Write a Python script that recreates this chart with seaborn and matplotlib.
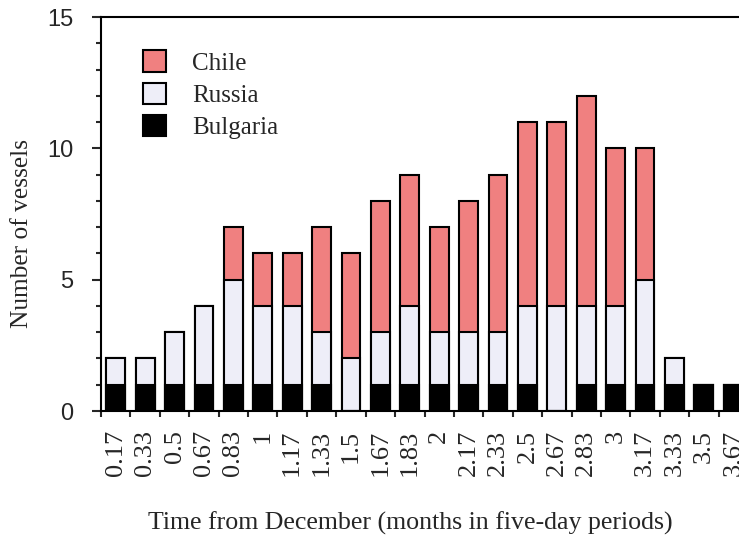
import matplotlib
matplotlib.use("Agg")
import matplotlib.pyplot as plt
import seaborn as sns
import numpy as np
import pandas as pd
from matplotlib.patches import Patch
from matplotlib.ticker import MultipleLocator, FixedLocator

periods = ["0.17", "0.33", "0.5", "0.67", "0.83", "1", "1.17", "1.33", "1.5", "1.67", "1.83",
           "2", "2.17", "2.33", "2.5", "2.67", "2.83", "3", "3.17", "3.33", "3.5", "3.67"]
bulgaria = [1, 1, 1, 1, 1, 1, 1, 1, 0, 1, 1, 1, 1, 1, 1, 0, 1, 1, 1, 1, 1, 1]
russia   = [1, 1, 2, 3, 4, 3, 3, 2, 2, 2, 3, 2, 2, 2, 3, 4, 3, 3, 4, 1, 0, 0]
chile    = [0, 0, 0, 0, 2, 2, 2, 4, 4, 5, 5, 4, 5, 6, 7, 7, 8, 6, 5, 0, 0, 0]

col_chile = "#F08080"
col_russia = "#EEEEF8"
col_bulg = "#000000"

df = pd.DataFrame({"period": periods, "Bulgaria": bulgaria, "Russia": russia, "Chile": chile})
df["lvl1"] = df["Bulgaria"]
df["lvl2"] = df["Bulgaria"] + df["Russia"]
df["lvl3"] = df["lvl2"] + df["Chile"]

sns.set_style("ticks")
fig = plt.figure(figsize=(7.39, 5.39), dpi=100)
ax = fig.add_axes([101/739, 1 - 411/539, 647/739, 394/539])

kw = dict(edgecolor="black", linewidth=1.5, width=0.64, order=periods, ax=ax, saturation=1)
sns.barplot(data=df, x="period", y="lvl3", color=col_chile, **kw)
sns.barplot(data=df, x="period", y="lvl2", color=col_russia, **kw)
sns.barplot(data=df, x="period", y="lvl1", color=col_bulg, **kw)

ax.set_xlim(-0.5, len(periods) - 0.5)
ax.set_ylim(0, 15)
ax.set_yticks([0, 5, 10, 15])
ax.yaxis.set_minor_locator(MultipleLocator(1))
ax.set_xticks(range(len(periods)))
ax.set_xticklabels(periods, rotation=90, fontfamily="Liberation Serif", fontsize=19)
ax.xaxis.set_minor_locator(FixedLocator(np.arange(-0.5, len(periods), 1.0)))
ax.tick_params(axis="x", which="major", length=0, pad=13.5)
ax.tick_params(axis="x", which="minor", length=4.5, width=1.5, direction="out")
ax.tick_params(axis="y", which="major", length=6.7, width=1.5, direction="out", pad=13)
ax.tick_params(axis="y", which="minor", length=3.6, width=1.5, direction="out")
for lab in ax.get_yticklabels():
    lab.set_fontfamily("Liberation Sans")
    lab.set_fontsize(17)

for side in ["left", "bottom", "top"]:
    ax.spines[side].set_linewidth(1.5)
    ax.spines[side].set_color("black")
ax.spines["right"].set_visible(False)

ax.set_xlabel("Time from December (months in five-day periods)", fontfamily="Liberation Serif",
              fontsize=18.6, va="baseline")
ax.xaxis.set_label_coords((410 - 101) / 647, (411 - 530) / 394)
ax.set_ylabel("Number of vessels", fontfamily="Liberation Serif", fontsize=18.3,
              va="center", ha="center")
ax.yaxis.set_label_coords((22.5 - 101) / 647, (411 - 234) / 394)

handles = [Patch(facecolor=col_chile, edgecolor="black", linewidth=1.5, label="Chile"),
           Patch(facecolor=col_russia, edgecolor="black", linewidth=1.5, label="Russia"),
           Patch(facecolor=col_bulg, edgecolor="black", linewidth=1.5, label="Bulgaria")]
ax.legend(handles=handles, loc="upper left",
          bbox_to_anchor=((143 - 101) / 647, (411 - 50.5) / 394), frameon=False,
          prop={"family": "Liberation Serif", "size": 18}, handlelength=0.92, handleheight=0.92,
          labelspacing=0.32, handletextpad=1.05, borderaxespad=0, borderpad=0)

fig.savefig("out.png", dpi=100)
